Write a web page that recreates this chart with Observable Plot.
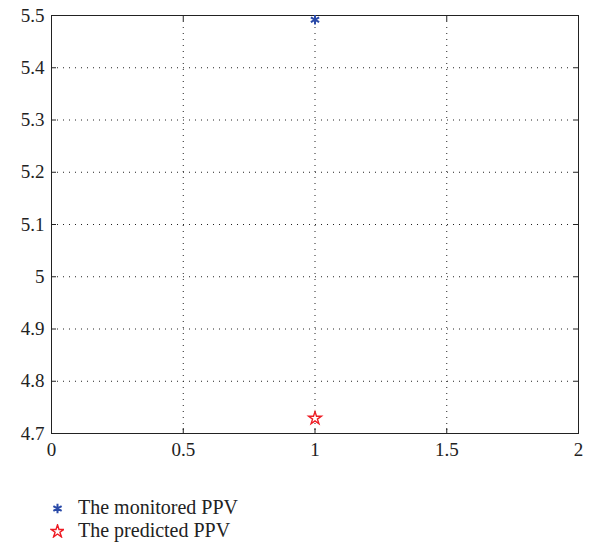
<!DOCTYPE html>
<html><head><meta charset="utf-8">
<script src="https://cdn.jsdelivr.net/npm/d3@7"></script>
<script src="https://cdn.jsdelivr.net/npm/@observablehq/plot@0.6"></script>
<style>
body{margin:0;background:#fff;font-family:"Liberation Serif","DejaVu Serif",serif;}
#chart svg text{font-family:"Liberation Serif","DejaVu Serif",serif !important;font-size:19px !important;fill:#222;}
#legend{margin-left:50px;margin-top:36px;font-size:20px;color:#222;line-height:23px;}
#legend div{display:flex;align-items:center;}
#legend svg{margin-right:14px;}
</style></head>
<body>
<div id="chart"></div>
<div id="legend"></div>
<script>
const seriesNames = ["The monitored PPV", "The predicted PPV"];
const seriesX = [1, 1];
const seriesY = [5.492, 4.729];
const seriesColors = ["#2a4aa8", "#ee1c24"];
const seriesSymbols = ["asterisk", "star"];
const xTicks = [0, 0.5, 1, 1.5, 2];
const yTicks = [4.7, 4.8, 4.9, 5, 5.1, 5.2, 5.3, 5.4, 5.5];

const data = seriesNames.map((n, i) => ({name: n, x: seriesX[i], y: seriesY[i], c: seriesColors[i], s: seriesSymbols[i], r: i === 0 ? 4.5 : 4, sw: i === 0 ? 2 : 1.4}));
const fmt = d => String(d);

const plot = Plot.plot({
  width: 589, height: 460,
  marginLeft: 51, marginTop: 15, marginRight: 11, marginBottom: 27,
  style: {fontFamily: '"Liberation Serif","DejaVu Serif",serif', fontSize: "19px", color: "#222"},
  x: {domain: [0, 2]},
  y: {domain: [4.7, 5.5]},
  marks: [
    Plot.gridX(xTicks.slice(1, -1), {stroke: "#222", strokeOpacity: 1, strokeDasharray: "1,5"}),
    Plot.gridY(yTicks.slice(1, -1), {stroke: "#222", strokeOpacity: 1, strokeDasharray: "1,5"}),
    Plot.frame({stroke: "#222", strokeWidth: 1}),
    Plot.axisX(xTicks, {tickSize: -5, tickPadding: 14, label: null, tickFormat: fmt, stroke: "#222", fill: "#222"}),
    Plot.axisX(xTicks, {anchor: "top", tickSize: -5, tickFormat: () => "", label: null, stroke: "#222"}),
    Plot.axisY(yTicks, {tickSize: -5, tickPadding: 12, label: null, tickFormat: fmt, stroke: "#222", fill: "#222"}),
    Plot.axisY(yTicks, {anchor: "right", tickSize: -5, tickFormat: () => "", label: null, stroke: "#222"}),
    Plot.dot(data.slice(0, 1), {x: "x", y: "y", symbol: "s", stroke: "c", fill: "white", r: 4.5, strokeWidth: 2}),
    Plot.dot(data.slice(1), {x: "x", y: "y", symbol: "s", stroke: "c", fill: "white", r: 4, strokeWidth: 1.4})
  ],
  symbol: {type: "identity"},
  color: {type: "identity"}
});
document.getElementById("chart").appendChild(plot);

const leg = document.getElementById("legend");
data.forEach(d => {
  const row = document.createElement("div");
  const sw = Plot.plot({
    width: 14, height: 14, margin: 0,
    x: {domain: [0, 1], axis: null}, y: {domain: [0, 1], axis: null},
    symbol: {type: "identity"},
    marks: [Plot.dot([d], {x: () => 0.5, y: () => 0.5, symbol: () => d.s, stroke: () => d.c, fill: "white", r: d.r, strokeWidth: d.sw})]
  });
  row.appendChild(sw);
  const t = document.createElement("span");
  t.textContent = d.name;
  row.appendChild(t);
  leg.appendChild(row);
});
</script>
</body></html>
